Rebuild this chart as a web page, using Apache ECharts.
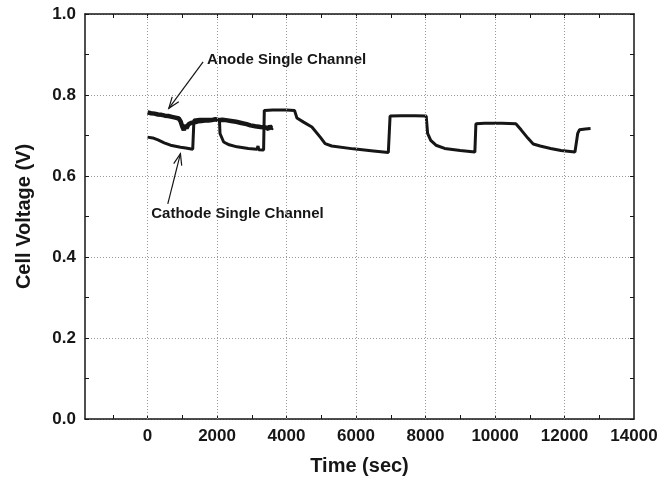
<!DOCTYPE html>
<html>
<head>
<meta charset="utf-8">
<script src="https://cdn.jsdelivr.net/npm/echarts@6/dist/echarts.min.js"></script>
<style>
  html, body { margin: 0; padding: 0; background: #fff; }
  #chart { width: 670px; height: 481px; }
</style>
</head>
<body>
<div id="chart"></div>
<script>
// time (sec), cell voltage (V)
const anode = [
  [0, 0.757], [100, 0.755], [200, 0.754], [300, 0.752], [400, 0.751], [500, 0.749],
  [600, 0.748], [700, 0.746], [800, 0.744], [900, 0.742], [950, 0.735], [1000, 0.722],
  [1045, 0.713], [1080, 0.726], [1120, 0.718], [1180, 0.728], [1250, 0.731], [1380, 0.733],
  [1450, 0.735], [1550, 0.736], [1650, 0.737], [1750, 0.737], [1850, 0.738], [1950, 0.740],
  [2050, 0.738], [2150, 0.739], [2250, 0.738], [2400, 0.736], [2550, 0.734], [2700, 0.731],
  [2850, 0.728], [2960, 0.725], [3100, 0.723], [3250, 0.721], [3400, 0.720], [3480, 0.716],
  [3520, 0.724], [3560, 0.718], [3600, 0.720]
];

const cathode = [
  [0, 0.696], [150, 0.694], [300, 0.689], [480, 0.682], [660, 0.676], [950, 0.671],
  [1100, 0.669], [1300, 0.666], [1320, 0.665], [1335, 0.738], [1500, 0.740], [1800, 0.740],
  [2000, 0.739], [2070, 0.738], [2085, 0.705], [2190, 0.684], [2350, 0.677], [2575, 0.672],
  [2900, 0.668], [3150, 0.666], [3180, 0.674], [3200, 0.665], [3340, 0.664], [3360, 0.762],
  [3600, 0.763], [4000, 0.763], [4230, 0.762], [4300, 0.743], [4490, 0.733], [4730, 0.721],
  [4970, 0.696], [5110, 0.680], [5300, 0.674], [5920, 0.667], [6500, 0.662], [6930, 0.658],
  [6980, 0.748], [7300, 0.749], [7700, 0.749], [8020, 0.748], [8060, 0.705], [8150, 0.688],
  [8300, 0.676], [8550, 0.668], [9000, 0.663], [9420, 0.659], [9450, 0.729], [9700, 0.730],
  [10200, 0.730], [10600, 0.729], [10750, 0.714], [10950, 0.693], [11100, 0.679], [11300, 0.674],
  [11600, 0.668], [11900, 0.663], [12300, 0.659], [12340, 0.660], [12380, 0.705], [12430, 0.714],
  [12600, 0.716], [12750, 0.717]
];

// x axis: ticks every 1000, labels and dotted grid every 2000
const xTicks = [-1000, 0, 1000, 2000, 3000, 4000, 5000, 6000, 7000, 8000, 9000, 10000, 11000, 12000, 13000];
const xLabels = [0, 2000, 4000, 6000, 8000, 10000, 12000, 14000];
const xGrid = [0, 2000, 4000, 6000, 8000, 10000, 12000];

// annotation text anchors and arrows, in data units [time, voltage]
const labels = [
  { text: 'Anode Single Channel', at: [1714, 0.886] },
  { text: 'Cathode Single Channel', at: [106, 0.507] }
];
const arrows = [
  { from: [1599, 0.882], to: [612, 0.767] },
  { from: [583, 0.531], to: [947, 0.655] }
];

const ink = '#161616';
const font = 'Liberation Sans, Arial, sans-serif';
const dotted = { color: '#9a9a9a', type: [1, 2], width: 1 };

const chart = echarts.init(document.getElementById('chart'));

const xBase = {
  type: 'value', min: -1800, max: 14000,
  axisLine: { onZero: false, lineStyle: { color: ink, width: 1.5 } },
  axisTick: { inside: true, length: 4, customValues: xTicks, lineStyle: { color: ink } },
  splitLine: { show: false }
};
const yBase = {
  type: 'value', min: 0, max: 1, interval: 0.2,
  axisLine: { show: true, onZero: false, lineStyle: { color: ink, width: 1.5 } },
  axisTick: { show: true, inside: true, length: 4, lineStyle: { color: ink } },
  minorTick: { show: true, splitNumber: 2, length: 4, lineStyle: { color: ink } },
  splitLine: { show: false }
};

chart.setOption({
  animation: false,
  backgroundColor: '#fff',
  grid: { left: 85, right: 36, top: 14, bottom: 61 },
  xAxis: [
    Object.assign({}, xBase, {
      position: 'bottom',
      name: 'Time (sec)', nameLocation: 'middle', nameGap: 37,
      nameTextStyle: { color: ink, fontFamily: font, fontWeight: 'bold', fontSize: 20 },
      axisLabel: {
        color: ink, fontFamily: font, fontWeight: 'bold', fontSize: 17, margin: 9,
        customValues: xLabels, formatter: v => String(v)
      }
    }),
    Object.assign({}, xBase, { position: 'top', axisLabel: { show: false } })
  ],
  yAxis: [
    Object.assign({}, yBase, {
      position: 'left',
      name: 'Cell Voltage (V)', nameLocation: 'middle', nameGap: 51,
      nameTextStyle: { color: ink, fontFamily: font, fontWeight: 'bold', fontSize: 20 },
      axisLabel: {
        color: ink, fontFamily: font, fontWeight: 'bold', fontSize: 17, margin: 9,
        formatter: v => v.toFixed(1)
      },
      splitLine: { show: true, lineStyle: dotted }
    }),
    Object.assign({}, yBase, { position: 'right', axisLabel: { show: false } })
  ],
  series: [
    {
      name: 'Cathode Single Channel', type: 'line', data: cathode,
      showSymbol: false, symbol: 'none',
      lineStyle: { color: ink, width: 3 },
      markLine: {
        silent: true, symbol: 'none', label: { show: false },
        lineStyle: dotted,
        data: xGrid.map(v => ({ xAxis: v }))
      },
      z: 3
    },
    {
      name: 'Anode Single Channel', type: 'line', data: anode,
      showSymbol: false, symbol: 'none',
      lineStyle: { color: ink, width: 4.5 },
      z: 3
    }
  ]
});

// annotations placed through the chart's own scales
function px(p) { return chart.convertToPixel({ xAxisIndex: 0, yAxisIndex: 0 }, p); }

const graphics = [];
labels.forEach(l => {
  const p = px(l.at);
  graphics.push({
    type: 'text', x: p[0], y: p[1],
    style: {
      text: l.text, fill: ink, font: 'bold 15px ' + font,
      verticalAlign: 'middle'
    }
  });
});
arrows.forEach(a => {
  const s = px(a.from), e = px(a.to);
  const ang = Math.atan2(e[1] - s[1], e[0] - s[0]);
  const len = 12, spread = 0.35;
  const b1 = [e[0] - len * Math.cos(ang - spread), e[1] - len * Math.sin(ang - spread)];
  const b2 = [e[0] - len * Math.cos(ang + spread), e[1] - len * Math.sin(ang + spread)];
  graphics.push({
    type: 'polyline', shape: { points: [s, e] },
    style: { stroke: ink, lineWidth: 1.2, fill: null }
  });
  graphics.push({
    type: 'polyline', shape: { points: [b1, e, b2] },
    style: { stroke: ink, lineWidth: 1.2, fill: null }
  });
});
chart.setOption({ graphic: graphics });
</script>
</body>
</html>
